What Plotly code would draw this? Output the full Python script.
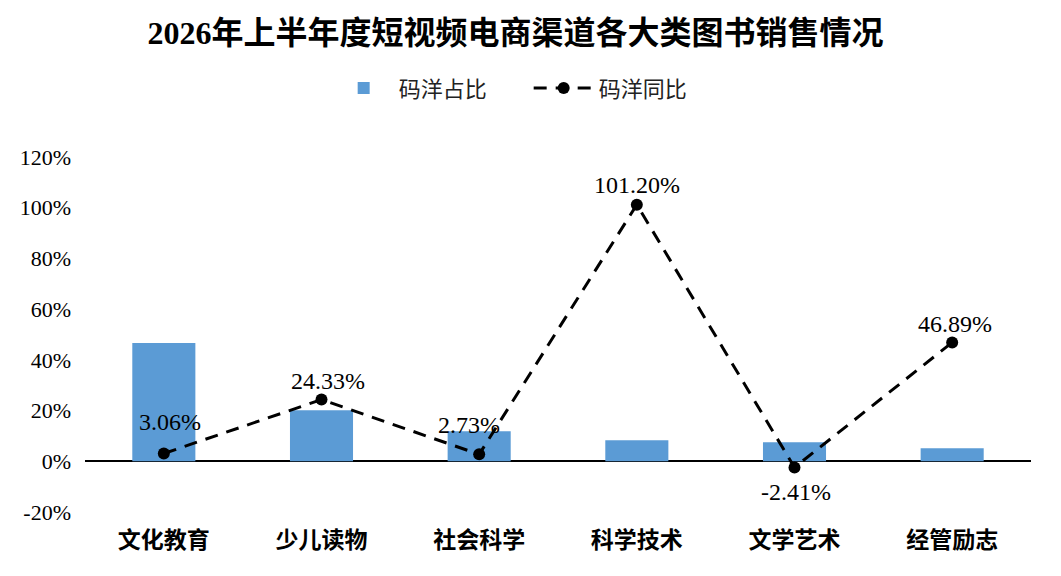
import plotly.graph_objects as go

categories = ["文化教育", "少儿读物", "社会科学", "科学技术", "文学艺术", "经管励志"]
share_pct = [46.6, 20.1, 11.8, 8.3, 7.5, 5.1]          # 码洋占比 (bars)
yoy_pct = [3.06, 24.33, 2.73, 101.20, -2.41, 46.89]     # 码洋同比 (line)
tick_vals = [-20, 0, 20, 40, 60, 80, 100, 120]
tick_text = [f"{v}%" for v in tick_vals]

# label nudges (px) so the value labels sit where the original put them
label_dx = [6, 6, -10, 0, 1, 3]
label_dy = [32, 19, 29, 20, -25, 18]

SERIF = "Liberation Serif, Noto Sans CJK SC, serif"
CJK = "Noto Sans CJK SC, sans-serif"

fig = go.Figure()

fig.add_trace(go.Bar(
    x=categories,
    y=share_pct,
    name="码洋占比",
    marker=dict(color="#5b9bd5", line=dict(width=0)),
    width=0.4,
))

fig.add_trace(go.Scatter(
    x=categories,
    y=yoy_pct,
    name="码洋同比",
    mode="lines+markers",
    line=dict(color="black", width=3, dash="13px,9px"),
    marker=dict(color="black", size=12),
))

for cat, v, dx, dy in zip(categories, yoy_pct, label_dx, label_dy):
    fig.add_annotation(
        x=cat, y=v, text=f"{v:.2f}%",
        showarrow=False, xshift=dx, yshift=dy,
        font=dict(family=SERIF, size=24, color="black"),
    )

# page body adds 8px offset, so figure is 8px smaller on each axis
fig.update_layout(
    width=1053,
    height=568,
    paper_bgcolor="white",
    plot_bgcolor="white",
    margin=dict(l=75, r=30, t=149, b=64),
    title=dict(
        text="<b>2026年上半年度短视频电商渠道各大类图书销售情况</b>",
        x=0.482, xanchor="center",
        y=0.956, yanchor="middle",
        font=dict(family=SERIF, size=32, color="black"),
    ),
    legend=dict(
        orientation="h",
        x=0.469, xanchor="center",
        y=1.194, yanchor="middle",
        font=dict(family=CJK, size=22, color="#222"),
        itemwidth=60,
        entrywidth=125,
    ),
    bargap=0.6,
    showlegend=True,
)

fig.update_xaxes(
    showgrid=False,
    showline=False,
    ticks="",
    tickfont=dict(family=CJK, size=23, color="black", weight="bold"),
    ticklabelstandoff=12,
)
fig.update_yaxes(
    range=[-20, 120],
    tickmode="array",
    tickvals=tick_vals,
    ticktext=tick_text,
    showgrid=False,
    zeroline=True,
    zerolinecolor="black",
    zerolinewidth=2,
    tickfont=dict(family=SERIF, size=22, color="black"),
    ticklabelstandoff=13,
)

fig.write_html("out.html")
